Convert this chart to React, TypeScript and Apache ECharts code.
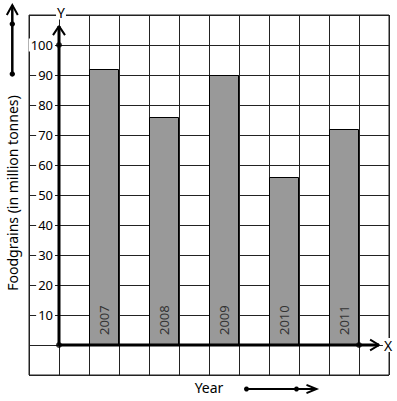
import React, { useEffect, useRef } from "react";
import * as echarts from "echarts";

const years = ["2007", "2008", "2009", "2010", "2011"];
const foodgrains = [92, 76, 90, 56, 72];
const yTickLabels = [10, 20, 30, 40, 50, 60, 70, 80, 90, 100];
const yAxisDots = [0, 100];
const xAxisDot = 10;
const yArrowTip = 106.3;
const xArrowTip = 10.67;

const FONT = "'Noto Sans', 'Open Sans', sans-serif";

export default function App() {
  const ref = useRef<HTMLDivElement>(null);
  useEffect(() => {
    if (!ref.current) return;
    const chart = echarts.init(ref.current, undefined, { renderer: "svg" });
    const barData = years.map((y, i) => [1.5 + 2 * i, foodgrains[i]]);
    chart.setOption({
      animation: false,
      backgroundColor: "#fff",
      grid: {
        left: 29,
        top: 15,
        width: 360,
        height: 360,
        outerBoundsMode: "none",
        containLabel: false,
        show: true,
        borderColor: "#222",
        borderWidth: 1,
        backgroundColor: "transparent",
      },
      xAxis: {
        type: "value",
        min: -1,
        max: 11,
        interval: 1,
        axisLine: { show: false, onZero: false },
        axisTick: { show: false },
        axisLabel: { show: false },
        splitLine: { show: true, lineStyle: { color: "#222", width: 1 } },
      },
      yAxis: {
        type: "value",
        min: -10,
        max: 110,
        interval: 10,
        axisLine: { show: false, onZero: false },
        axisTick: { show: false },
        axisLabel: {
          show: true,
          customValues: yTickLabels,
          color: "#000",
          fontSize: 13,
          fontFamily: FONT,
          margin: -26,
          align: "right",
          backgroundColor: "#fff",
          padding: [0, 2, 0, 2],
          lineHeight: 13,
        },
        splitLine: { show: true, lineStyle: { color: "#222", width: 1 } },
      },
      series: [
        {
          type: "bar",
          data: barData,
          barWidth: 30,
          itemStyle: { color: "#999999", borderColor: "#000", borderWidth: 1 },
          label: {
            show: true,
            position: "insideBottom",
            distance: 10,
            rotate: 90,
            align: "left",
            verticalAlign: "middle",
            fontSize: 13,
            fontFamily: FONT,
            color: "#333",
            formatter: (p: any) => years[p.dataIndex],
          },
          z: 2,
        },
        {
          type: "line",
          data: [[0, 0], [0, yArrowTip]],
          symbol: "none",
          lineStyle: { color: "#000", width: 3 },
          z: 5,
        },
        {
          type: "line",
          data: [[0, 0], [xArrowTip, 0]],
          symbol: "none",
          lineStyle: { color: "#000", width: 3 },
          z: 5,
        },
        {
          type: "line",
          data: [[-0.2, yArrowTip - 3], [0, yArrowTip], [0.2, yArrowTip - 3]],
          symbol: "none",
          lineStyle: { color: "#000", width: 2 },
          z: 5,
        },
        {
          type: "line",
          data: [[xArrowTip - 0.3, 1.8], [xArrowTip, 0], [xArrowTip - 0.3, -1.8]],
          symbol: "none",
          lineStyle: { color: "#000", width: 2 },
          z: 5,
        },
        {
          type: "scatter",
          data: [...yAxisDots.map((v) => [0, v]), [xAxisDot, 0]],
          symbol: "circle",
          symbolSize: 6,
          itemStyle: { color: "#000" },
          z: 6,
        },
      ],
      graphic: [
        {
          type: "text",
          x: 61,
          y: 12.5,
          style: {
            text: "Y",
            fontSize: 14,
            fontFamily: FONT,
            fill: "#000",
            align: "center",
            verticalAlign: "middle",
            backgroundColor: "#fff",
            padding: [0, 1, 0, 1],
          },
          z: 10,
        },
        {
          type: "text",
          x: 388,
          y: 345,
          style: {
            text: "X",
            fontSize: 14,
            fontFamily: FONT,
            fill: "#000",
            align: "center",
            verticalAlign: "middle",
            backgroundColor: "#fff",
            padding: [0, 1, 0, 1],
          },
          z: 10,
        },
        {
          type: "text",
          x: 12,
          y: 193,
          rotation: Math.PI / 2,
          style: {
            text: "Foodgrains (in million tonnes)",
            fontSize: 14,
            fontFamily: FONT,
            fill: "#000",
            align: "center",
            verticalAlign: "middle",
          },
        },
        {
          type: "text",
          x: 209,
          y: 387,
          style: {
            text: "Year",
            fontSize: 14,
            fontFamily: FONT,
            fill: "#000",
            align: "center",
            verticalAlign: "middle",
          },
        },
        // left decorative arrow
        { type: "line", shape: { x1: 12.3, y1: 74, x2: 12.3, y2: 5.5 }, style: { stroke: "#000", lineWidth: 2.5 } },
        { type: "polyline", shape: { points: [[6.8, 15], [12.3, 5], [17.8, 15]] }, style: { stroke: "#000", lineWidth: 2, fill: "none" } },
        { type: "circle", shape: { cx: 12.3, cy: 24, r: 2.7 }, style: { fill: "#000" } },
        { type: "circle", shape: { cx: 12.3, cy: 74, r: 2.7 }, style: { fill: "#000" } },
        // Year arrow
        { type: "line", shape: { x1: 246.5, y1: 389, x2: 315.5, y2: 389 }, style: { stroke: "#000", lineWidth: 2 } },
        { type: "polyline", shape: { points: [[306.5, 384.8], [316.5, 389], [306.5, 393.2]] }, style: { stroke: "#000", lineWidth: 2, fill: "none" } },
        { type: "circle", shape: { cx: 246.5, cy: 389, r: 2.5 }, style: { fill: "#000" } },
        { type: "circle", shape: { cx: 296.5, cy: 389, r: 2.5 }, style: { fill: "#000" } },
      ],
    });
    return () => chart.dispose();
  }, []);
  return (
    <div
      ref={ref}
      style={{ position: "fixed", left: 0, top: 0, width: 397, height: 401, background: "#fff" }}
    />
  );
}
